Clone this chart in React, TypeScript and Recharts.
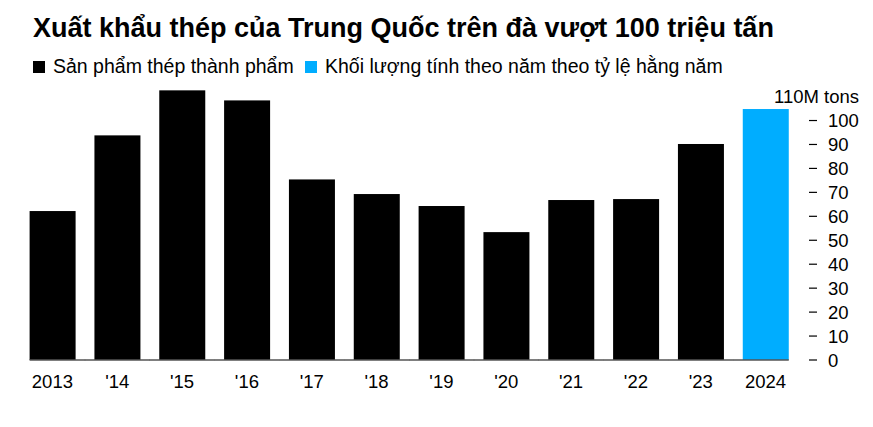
import React from "react";
import { BarChart, Bar, XAxis, YAxis, Cell } from "recharts";

// years and exports (million tons), 2024 is annualized
const YEARS = ["2013", "'14", "'15", "'16", "'17", "'18", "'19", "'20", "'21", "'22", "'23", "2024"];
const EXPORTS = [62.2, 93.8, 112.6, 108.4, 75.4, 69.3, 64.3, 53.4, 66.8, 67.2, 90.2, 104.8];
const ANNUALIZED = [false, false, false, false, false, false, false, false, false, false, false, true];
const Y_TICKS = [0, 10, 20, 30, 40, 50, 60, 70, 80, 90, 100, 110];

const BLACK = "#000000";
const BLUE = "#00adff";
const FONT = "'Liberation Sans', Arial, sans-serif";
const HALF_GAP = 9.6;
const TICK_FONT = 18.5;

const data = YEARS.map((year, i) => ({
  year,
  value: EXPORTS[i],
  annualized: ANNUALIZED[i],
}));

// bar plus its share of the baseline under it
const BarWithBase = (props: any) => {
  const { x, y, width, height, fill, index } = props;
  const base = y + height;
  const x1 = index === 0 ? x : x - HALF_GAP;
  const x2 = index === data.length - 1 ? x + width : x + width + HALF_GAP;
  return (
    <g>
      <rect x={x} y={y} width={width} height={height} fill={fill} />
      <line x1={x1} x2={x2} y1={base} y2={base} stroke="#555" strokeWidth={1.5} />
    </g>
  );
};

const RightTick = (props: any) => {
  const { x, y, payload } = props;
  if (payload.value === 110) {
    return (
      <text x={x + 61} y={y} textAnchor="end" dominantBaseline="central" fontSize={TICK_FONT} fill="#000" fontFamily={FONT}>
        110M tons
      </text>
    );
  }
  return (
    <g>
      <line x1={x + 11} x2={x + 19} y1={y} y2={y} stroke="#000" strokeWidth={1.2} />
      <text x={x + 30} y={y} textAnchor="start" dominantBaseline="central" fontSize={TICK_FONT} fill="#000" fontFamily={FONT}>
        {payload.value}
      </text>
    </g>
  );
};

const LegendItem = ({ color, label, left }: { color: string; label: string; left: number }) => (
  <div style={{ position: "absolute", left, top: 55, display: "flex", alignItems: "center" }}>
    <div style={{ width: 12, height: 12, background: color, marginRight: 8 }} />
    <span style={{ fontSize: 19.5, color: "#000" }}>{label}</span>
  </div>
);

export default function App() {
  return (
    <div style={{ position: "absolute", left: 0, top: 0, width: 873, height: 427, background: "#fff", fontFamily: FONT }}>
      <div style={{ position: "absolute", left: 33, top: 13, fontSize: 27, fontWeight: 700, color: "#000", whiteSpace: "nowrap" }}>
        Xuất khẩu thép của Trung Quốc trên đà vượt 100 triệu tấn
      </div>
      <LegendItem color={BLACK} label="Sản phẩm thép thành phẩm" left={33} />
      <LegendItem color={BLUE} label="Khối lượng tính theo năm theo tỷ lệ hằng năm" left={305} />
      <div style={{ position: "absolute", left: 0, top: 0 }}>
        <BarChart
          width={873}
          height={427}
          data={data}
          margin={{ top: 84.6, right: 15, bottom: 37, left: 20 }}
          barCategoryGap={HALF_GAP}
        >
          <XAxis
            dataKey="year"
            axisLine={false}
            tickLine={false}
            height={30}
            tickMargin={9}
            tick={{ fontSize: TICK_FONT, fill: "#000", fontFamily: FONT }}
            interval={0}
          />
          <YAxis
            orientation="right"
            width={60}
            domain={[0, 115]}
            ticks={Y_TICKS}
            axisLine={false}
            tickLine={false}
            tickSize={0}
            tickMargin={0}
            tick={<RightTick />}
            interval={0}
          />
          <Bar dataKey="value" isAnimationActive={false} shape={<BarWithBase />}>
            {data.map((d, i) => (
              <Cell key={i} fill={d.annualized ? BLUE : BLACK} />
            ))}
          </Bar>
        </BarChart>
      </div>
    </div>
  );
}
